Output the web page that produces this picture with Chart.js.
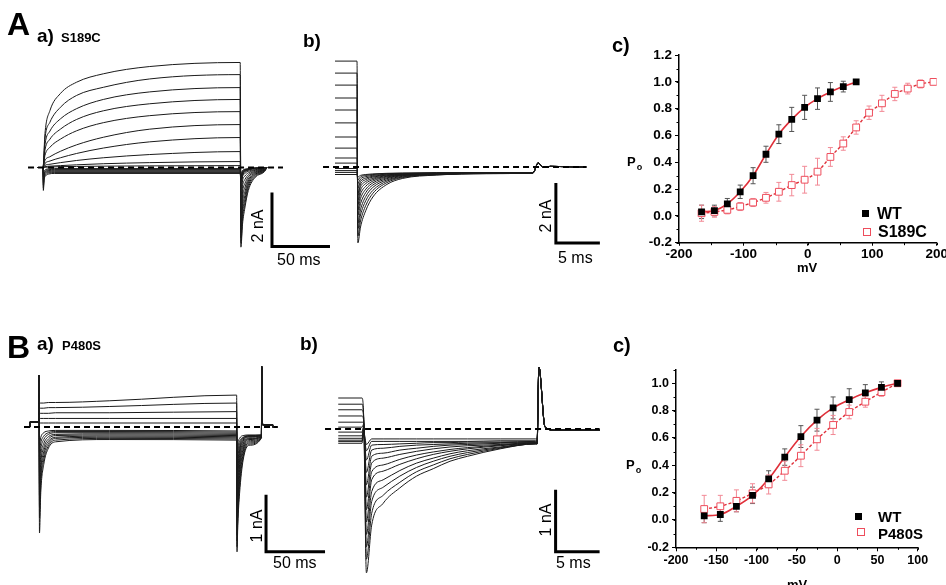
<!DOCTYPE html>
<html>
<head>
<meta charset="utf-8">
<script src="https://cdn.jsdelivr.net/npm/chart.js@4.4.1/dist/chart.umd.min.js"></script>
<style>
  html, body { margin: 0; padding: 0; background: #fff; }
  #fig { position: relative; width: 946px; height: 585px; overflow: hidden; background: #fff; }
  #fig canvas { position: absolute; left: 0; top: 0; }
  .t { position: absolute; font-family: 'Liberation Sans', Arial, sans-serif; color: #000; white-space: nowrap; line-height: 1; }
  .b { font-weight: bold; }
  .rot { transform: translate(-50%, -50%) rotate(-90deg); font-size: 16px; }
  .mk { position: absolute; box-sizing: border-box; }
</style>
</head>
<body>
<div id="fig">
  <canvas id="cAa" width="946" height="585"></canvas>
  <canvas id="cAb" width="946" height="585"></canvas>
  <canvas id="cAc" width="946" height="585"></canvas>
  <canvas id="cBa" width="946" height="585"></canvas>
  <canvas id="cBb" width="946" height="585"></canvas>
  <canvas id="cBc" width="946" height="585"></canvas>

  <div class="t b" style="left:7px;top:8px;font-size:32px">A</div>
  <div class="t b" style="left:37px;top:26px;font-size:19px">a)</div>
  <div class="t b" style="left:61px;top:31px;font-size:13px">S189C</div>
  <div class="t b" style="left:303px;top:31px;font-size:19px">b)</div>
  <div class="t b" style="left:612px;top:35px;font-size:20px">c)</div>

  <div class="t b" style="left:7px;top:331px;font-size:32px">B</div>
  <div class="t b" style="left:37px;top:334px;font-size:19px">a)</div>
  <div class="t b" style="left:62px;top:339px;font-size:13px">P480S</div>
  <div class="t b" style="left:300px;top:334px;font-size:19px">b)</div>
  <div class="t b" style="left:613px;top:335px;font-size:20px">c)</div>

  <!-- barras de escala -->
  <div class="t rot" style="left:258px;top:226px">2 nA</div>
  <div class="t" style="left:277px;top:252px;font-size:16px">50 ms</div>
  <div class="t rot" style="left:546px;top:216px">2 nA</div>
  <div class="t" style="left:558px;top:250px;font-size:16px">5 ms</div>
  <div class="t rot" style="left:257px;top:526px">1 nA</div>
  <div class="t" style="left:273px;top:555px;font-size:16px">50 ms</div>
  <div class="t rot" style="left:546px;top:520px">1 nA</div>
  <div class="t" style="left:556px;top:555px;font-size:16px">5 ms</div>

  <!-- ejes de los paneles c -->
  <div class="t b" style="left:627px;top:155px;font-size:13px">P<span style="font-size:9px;position:relative;top:4px;left:1px">o</span></div>
  <div class="t b" style="left:807px;top:261px;font-size:13px;transform:translateX(-50%)">mV</div>
  <div class="t b" style="left:626px;top:458px;font-size:13px">P<span style="font-size:9px;position:relative;top:4px;left:1px">o</span></div>
  <div class="t b" style="left:797px;top:578px;font-size:13px;transform:translateX(-50%)">mV</div>

  <!-- leyendas -->
  <div class="mk" style="left:862px;top:210px;width:7px;height:7px;background:#000"></div>
  <div class="t b" style="left:877px;top:206px;font-size:16px">WT</div>
  <div class="mk" style="left:863px;top:228px;width:8px;height:8px;border:1px solid #ee4d5c;background:#fff"></div>
  <div class="t b" style="left:878px;top:224px;font-size:16px">S189C</div>
  <div class="mk" style="left:855px;top:513px;width:7px;height:7px;background:#000"></div>
  <div class="t b" style="left:878px;top:509px;font-size:15px">WT</div>
  <div class="mk" style="left:857px;top:528px;width:8px;height:8px;border:1px solid #ee4d5c;background:#fff"></div>
  <div class="t b" style="left:878px;top:526px;font-size:15px">P480S</div>
</div>

<script>
// ---------- A a) S189C: corriente (nA) frente a tiempo (ms)
const tAaOut = [-5, 0, 1.7, 6, 15, 29, 52, 92, 170, 170.6, 172, 174, 177, 183, 191, 193];
const aaOut = [
    [0, 0, 1.26, 2.11, 2.74, 3.16, 3.47, 3.74, 3.89, -2.95, -2.1, -1.5, -0.85, -0.36, -0.15, 0],
    [0, 0, 1.07, 1.68, 2.23, 2.67, 2.97, 3.28, 3.44, -2.8, -1.9, -1.35, -0.75, -0.32, -0.13, 0],
    [0, 0, 0.85, 1.35, 1.80, 2.18, 2.52, 2.80, 2.96, -2.6, -1.7, -1.2, -0.66, -0.28, -0.12, 0],
    [0, 0, 0.65, 1.05, 1.42, 1.78, 2.10, 2.36, 2.52, -2.4, -1.5, -1.05, -0.58, -0.25, -0.1, 0],
    [0, 0, 0.45, 0.75, 1.05, 1.36, 1.66, 1.92, 2.07, -2.2, -1.3, -0.9, -0.5, -0.22, -0.09, 0],
    [0, 0, 0.26, 0.40, 0.60, 0.84, 1.12, 1.42, 1.59, -2.0, -1.1, -0.75, -0.42, -0.19, -0.08, 0],
    [0, 0, 0.15, 0.24, 0.36, 0.52, 0.72, 0.95, 1.11, -1.7, -0.9, -0.6, -0.34, -0.16, -0.07, 0],
    [0, 0, 0.08, 0.12, 0.18, 0.26, 0.36, 0.48, 0.59, -1.4, -0.7, -0.45, -0.27, -0.13, -0.06, 0],
    [0, 0, 0.03, 0.05, 0.07, 0.10, 0.14, 0.18, 0.22, -1.1, -0.5, -0.32, -0.2, -0.1, -0.05, 0],
    [0, 0, 0.01, 0.02, 0.03, 0.04, 0.05, 0.06, 0.07, -0.8, -0.35, -0.22, -0.14, -0.08, -0.04, 0]
];
const tAaIn = [-5, 0, 0.3, 1, 2.5, 5, 10, 170, 170.6, 172, 176, 185, 193];
const aaIn = [
    [0, 0, -0.85, -0.45, -0.3, -0.24, -0.22, -0.22, -0.6, -0.3, -0.12, -0.04, 0],
    [0, 0, -0.75, -0.4, -0.26, -0.2, -0.19, -0.19, -0.5, -0.26, -0.1, -0.03, 0],
    [0, 0, -0.65, -0.35, -0.22, -0.17, -0.16, -0.16, -0.45, -0.22, -0.09, -0.03, 0],
    [0, 0, -0.55, -0.3, -0.18, -0.14, -0.13, -0.13, -0.4, -0.2, -0.08, -0.02, 0],
    [0, 0, -0.45, -0.25, -0.14, -0.11, -0.10, -0.10, -0.35, -0.17, -0.07, -0.02, 0],
    [0, 0, -0.35, -0.2, -0.11, -0.08, -0.07, -0.07, -0.3, -0.14, -0.06, -0.02, 0],
    [0, 0, -0.25, -0.14, -0.07, -0.05, -0.04, -0.04, -0.25, -0.11, -0.05, -0.01, 0]
];

// ---------- A b) colas
const tAb = [-2.5, 0, 0.1, 0.4, 1.0, 1.8, 3.4, 5.2, 9, 14.7, 20, 20.6, 21.1, 22, 26];
const abTails = [
    [3.53, 3.53, -2.53, -2.0, -1.45, -1.0, -0.58, -0.38, -0.27, -0.22, -0.2, 0.14, 0, 0.02, 0],
    [3.13, 3.13, -2.3, -1.8, -1.28, -0.88, -0.52, -0.35, -0.26, -0.22, -0.2, 0.14, 0, 0.02, 0],
    [2.73, 2.73, -2.05, -1.6, -1.12, -0.78, -0.47, -0.33, -0.25, -0.22, -0.2, 0.14, 0, 0.02, 0],
    [2.30, 2.30, -1.87, -1.42, -0.98, -0.68, -0.43, -0.31, -0.25, -0.21, -0.19, 0.14, 0, 0.02, 0],
    [1.90, 1.90, -1.6, -1.22, -0.85, -0.6, -0.39, -0.29, -0.24, -0.21, -0.19, 0.14, 0, 0.02, 0],
    [1.47, 1.47, -1.43, -1.05, -0.74, -0.53, -0.36, -0.28, -0.23, -0.21, -0.19, 0.14, 0, 0.02, 0],
    [1.0, 1.0, -1.25, -0.9, -0.64, -0.47, -0.33, -0.27, -0.23, -0.21, -0.19, 0.14, 0, 0.02, 0],
    [0.63, 0.63, -1.1, -0.77, -0.55, -0.42, -0.31, -0.26, -0.22, -0.2, -0.19, 0.14, 0, 0.02, 0],
    [0.30, 0.30, -0.95, -0.66, -0.48, -0.38, -0.29, -0.25, -0.22, -0.2, -0.19, 0.14, 0, 0.02, 0],
    [0.13, 0.13, -0.87, -0.57, -0.42, -0.34, -0.27, -0.24, -0.21, -0.2, -0.19, 0.14, 0, 0.02, 0],
    [-0.05, -0.05, -0.7, -0.48, -0.37, -0.31, -0.26, -0.23, -0.21, -0.2, -0.19, 0.14, 0, 0.02, 0],
    [-0.12, -0.12, -0.55, -0.4, -0.32, -0.28, -0.24, -0.22, -0.2, -0.19, -0.19, 0.14, 0, 0.02, 0],
    [-0.18, -0.18, -0.43, -0.33, -0.28, -0.25, -0.22, -0.21, -0.2, -0.19, -0.19, 0.14, 0, 0.02, 0],
    [-0.25, -0.25, -0.33, -0.28, -0.25, -0.23, -0.21, -0.2, -0.19, -0.19, -0.19, 0.14, 0, 0.02, 0]
];

// ---------- B a) P480S
const tBa = [-12, -7.6, -7.5, -0.1, 0, 0.4, 1.5, 4, 8, 14, 60, 167.5, 167.8, 168.5, 170, 173, 178, 188.5, 188.7, 189.5, 190.5, 198, 198.1, 202];
const baOut = [
    [0, 0, 0.09, 0.09, 0.9, 0.42, 0.42, 0.42, 0.43, 0.43, 0.46, 0.56, -0.5, -0.3, -0.2, -0.15, -0.14, -0.14, 1.06, 0.04, 0.04, 0.04, 0, 0],
    [0, 0, 0.09, 0.09, 0.9, 0.33, 0.33, 0.33, 0.34, 0.34, 0.36, 0.42, -0.6, -0.38, -0.25, -0.18, -0.15, -0.14, 1.06, 0.04, 0.04, 0.04, 0, 0],
    [0, 0, 0.09, 0.09, 0.9, 0.24, 0.24, 0.24, 0.24, 0.25, 0.25, 0.27, -0.7, -0.45, -0.3, -0.19, -0.16, -0.15, 1.06, 0.04, 0.04, 0.04, 0, 0],
    [0, 0, 0.09, 0.09, 0.9, 0.15, 0.15, 0.15, 0.15, 0.15, 0.15, 0.15, -0.85, -0.55, -0.35, -0.21, -0.16, -0.15, 1.06, 0.04, 0.04, 0.04, 0, 0],
    [0, 0, 0.09, 0.09, 0.9, 0.07, 0.07, 0.07, 0.07, 0.07, 0.07, 0.07, -1.0, -0.65, -0.4, -0.23, -0.17, -0.15, 1.06, 0.04, 0.04, 0.04, 0, 0]
];
const baIn = [
    [0, 0, 0.09, 0.09, 0.9, -0.3, -0.18, -0.1, -0.07, -0.06, -0.06, -0.07, -1.1, -0.75, -0.44, -0.25, -0.18, -0.15, 1.06, 0.04, 0.04, 0.04, 0, 0],
    [0, 0, 0.09, 0.09, 0.9, -0.45, -0.28, -0.16, -0.1, -0.08, -0.08, -0.09, -1.2, -0.85, -0.5, -0.28, -0.2, -0.16, 1.06, 0.04, 0.04, 0.04, 0, 0],
    [0, 0, 0.09, 0.09, 0.9, -0.6, -0.38, -0.22, -0.13, -0.1, -0.1, -0.11, -1.4, -1.0, -0.58, -0.31, -0.21, -0.16, 1.06, 0.04, 0.04, 0.04, 0, 0],
    [0, 0, 0.09, 0.09, 0.9, -0.8, -0.5, -0.29, -0.17, -0.13, -0.12, -0.13, -1.6, -1.15, -0.66, -0.35, -0.22, -0.17, 1.06, 0.04, 0.04, 0.04, 0, 0],
    [0, 0, 0.09, 0.09, 0.9, -1.0, -0.62, -0.36, -0.21, -0.15, -0.14, -0.15, -1.75, -1.3, -0.75, -0.39, -0.24, -0.17, 1.06, 0.04, 0.04, 0.04, 0, 0],
    [0, 0, 0.09, 0.09, 0.9, -1.2, -0.75, -0.43, -0.25, -0.18, -0.16, -0.17, -1.9, -1.4, -0.85, -0.43, -0.26, -0.18, 1.06, 0.04, 0.04, 0.04, 0, 0],
    [0, 0, 0.09, 0.09, 0.9, -1.4, -0.88, -0.5, -0.29, -0.2, -0.18, -0.19, -2.0, -1.5, -0.95, -0.48, -0.28, -0.18, 1.06, 0.04, 0.04, 0.04, 0, 0],
    [0, 0, 0.09, 0.09, 0.9, -1.6, -1.0, -0.58, -0.33, -0.23, -0.2, -0.21, -2.1, -1.6, -1.05, -0.53, -0.3, -0.19, 1.06, 0.04, 0.04, 0.04, 0, 0],
    [0, 0, 0.09, 0.09, 0.9, -1.86, -1.15, -0.66, -0.37, -0.26, -0.22, -0.23, -2.19, -1.7, -1.16, -0.58, -0.32, -0.19, 1.06, 0.04, 0.04, 0.04, 0, 0]
];

// ---------- B b) colas
const tBb = [-2.7, 0, 0.2, 0.5, 1.1, 2.4, 4.3, 6.2, 8.1, 10, 12, 15.7, 19.7, 19.9, 20.1, 20.8, 22, 27];
const bbTails = [
    [0.5, 0.5, 0.15, -2.32, -1.55, -1.2, -0.95, -0.76, -0.64, -0.52, -0.44, -0.32, -0.24, -0.24, 1.0, 0.03, -0.02, -0.02],
    [0.40, 0.40, 0.15, -2.1, -1.36, -1.07, -0.86, -0.69, -0.58, -0.48, -0.41, -0.31, -0.24, -0.24, 1.0, 0.03, -0.02, -0.02],
    [0.31, 0.31, 0.15, -1.9, -1.17, -0.94, -0.76, -0.62, -0.52, -0.44, -0.38, -0.3, -0.24, -0.24, 1.0, 0.03, -0.02, -0.02],
    [0.21, 0.21, 0.12, -1.7, -1.01, -0.82, -0.67, -0.55, -0.47, -0.4, -0.35, -0.29, -0.23, -0.23, 1.0, 0.03, -0.02, -0.02],
    [0.11, 0.11, 0.1, -1.5, -0.82, -0.68, -0.57, -0.48, -0.41, -0.36, -0.32, -0.27, -0.23, -0.23, 1.0, 0.03, -0.02, -0.02],
    [0.03, 0.03, 0.08, -1.3, -0.69, -0.58, -0.49, -0.42, -0.37, -0.33, -0.3, -0.26, -0.23, -0.23, 1.0, 0.03, -0.02, -0.02],
    [-0.05, -0.05, 0.05, -1.1, -0.55, -0.47, -0.41, -0.36, -0.32, -0.29, -0.27, -0.25, -0.22, -0.22, 1.0, 0.03, -0.02, -0.02],
    [-0.11, -0.11, 0.03, -0.9, -0.44, -0.39, -0.34, -0.31, -0.28, -0.26, -0.25, -0.23, -0.22, -0.22, 1.0, 0.03, -0.02, -0.02],
    [-0.15, -0.15, 0, -0.7, -0.34, -0.31, -0.28, -0.26, -0.25, -0.24, -0.23, -0.22, -0.21, -0.21, 1.0, 0.03, -0.02, -0.02],
    [-0.18, -0.18, -0.02, -0.5, -0.26, -0.25, -0.24, -0.23, -0.22, -0.22, -0.21, -0.21, -0.2, -0.2, 1.0, 0.03, -0.02, -0.02],
    [-0.23, -0.23, -0.05, -0.35, -0.2, -0.2, -0.2, -0.2, -0.2, -0.2, -0.2, -0.19, -0.19, -0.19, 1.0, 0.03, -0.02, -0.02],
    [-0.2, -0.2, -0.05, -0.25, -0.16, -0.16, -0.16, -0.16, -0.16, -0.16, -0.16, -0.16, -0.16, -0.16, 1.0, 0.03, -0.02, -0.02]
];

// ---------- c) Po frente a mV
const mvA_WT = [-165, -145, -125, -105, -85, -65, -45, -25, -5, 15, 35, 55, 75];
const poA_WT = [0.03, 0.04, 0.09, 0.18, 0.30, 0.46, 0.61, 0.72, 0.81, 0.875, 0.925, 0.965, 1.0];
const errA_WT = [0.05, 0.04, 0.04, 0.05, 0.06, 0.06, 0.07, 0.09, 0.09, 0.08, 0.07, 0.04, 0];
const mvA_S189C = [-165, -145, -125, -105, -85, -65, -45, -25, -5, 15, 35, 55, 75, 95, 115, 135, 155, 175, 195];
const poA_S189C = [0.02, 0.03, 0.045, 0.07, 0.10, 0.135, 0.18, 0.23, 0.27, 0.33, 0.44, 0.54, 0.66, 0.77, 0.84, 0.91, 0.95, 0.985, 1.0];
const errA_S189C = [0.06, 0.04, 0.03, 0.03, 0.03, 0.04, 0.07, 0.08, 0.1, 0.1, 0.07, 0.05, 0.05, 0.05, 0.06, 0.05, 0.04, 0.03, 0];

const mvB = [-165, -145, -125, -105, -85, -65, -45, -25, -5, 15, 35, 55, 75];
const poB_WT = [0.03, 0.04, 0.10, 0.18, 0.30, 0.46, 0.61, 0.73, 0.82, 0.88, 0.93, 0.97, 1.0];
const errB_WT = [0.05, 0.05, 0.04, 0.06, 0.06, 0.06, 0.08, 0.08, 0.08, 0.08, 0.06, 0.04, 0];
const poB_P480S = [0.08, 0.10, 0.14, 0.195, 0.26, 0.36, 0.47, 0.59, 0.695, 0.79, 0.865, 0.935, 1.0];
const errB_P480S = [0.1, 0.08, 0.08, 0.07, 0.07, 0.07, 0.08, 0.08, 0.07, 0.05, 0.04, 0.03, 0];

// barras de escala (ms, nA)
const barAa = [50, 2], barAb = [5, 2], barBa = [50, 1], barBb = [5, 1];

// ---------- geometría (píxeles)
const W = 946, H = 585;
const geoAa = { x0: 43, pxT: 1.16, y0: 167.5, pxI: 27, box: [15, 45, 345, 295], dash: [-12.9, 206.9], bar: [197.4, -2.93] };
const geoAb = { x0: 357, pxT: 8.8, y0: 167, pxI: 30, box: [315, 45, 605, 295], dash: [-3.86, 26.1], bar: [22.6, -2.53] };
const geoBa = { x0: 39, pxT: 1.18, y0: 427, pxI: 57, box: [15, 355, 345, 585], dash: [-12.7, 201.7], bar: [192.4, -2.19] };
const geoBb = { x0: 362, pxT: 8.8, y0: 429, pxI: 62, box: [315, 355, 605, 585], dash: [-4.2, 27], bar: [22.0, -1.98] };

const FONT = "'Liberation Sans', Arial, sans-serif";
Chart.defaults.font.family = FONT;

function pts(ts, vs) { return ts.map((t, i) => ({ x: t, y: vs[i] })); }

function traceChart(id, geo, groups, bar) {
    const [L, T, R, B] = geo.box;
    const ds = [];
    // línea base discontinua
    ds.push({ data: [{ x: geo.dash[0], y: 0 }, { x: geo.dash[1], y: 0 }], borderColor: '#000',
        borderWidth: 2, borderDash: [6, 4], pointRadius: 0 });
    // barra de escala
    const [bt, bi] = geo.bar;
    ds.push({ data: [{ x: bt, y: bi + bar[1] }, { x: bt, y: bi }, { x: bt + bar[0], y: bi }],
        borderColor: '#000', borderWidth: 3, pointRadius: 0, tension: 0, borderJoinStyle: 'miter' });
    groups.forEach(g => g.rows.forEach(r => ds.push({
        data: pts(g.t, r), borderColor: '#1a1a1a', borderWidth: 1, pointRadius: 0,
        cubicInterpolationMode: 'monotone'
    })));
    new Chart(document.getElementById(id), {
        type: 'line',
        data: { datasets: ds },
        options: {
            responsive: false, animation: false, events: [], devicePixelRatio: 1,
            layout: { padding: { left: L, top: T, right: W - R, bottom: H - B } },
            plugins: { legend: { display: false }, tooltip: { enabled: false } },
            scales: {
                x: { type: 'linear', display: false, min: (L - geo.x0) / geo.pxT, max: (R - geo.x0) / geo.pxT },
                y: { type: 'linear', display: false, min: (geo.y0 - B) / geo.pxI, max: (geo.y0 - T) / geo.pxI }
            }
        }
    });
}

traceChart('cAa', geoAa, [{ t: tAaOut, rows: aaOut }, { t: tAaIn, rows: aaIn }], barAa);
traceChart('cAb', geoAb, [{ t: tAb, rows: abTails }], barAb);
traceChart('cBa', geoBa, [{ t: tBa, rows: baOut }, { t: tBa, rows: baIn }], barBa);
traceChart('cBb', geoBb, [{ t: tBb, rows: bbTails }], barBb);

// barras de error
const errorBars = {
    id: 'errorBars',
    beforeDatasetsDraw(chart) {
        const { ctx, scales: { x, y } } = chart;
        chart.data.datasets.forEach(ds => {
            if (!ds.err) return;
            ctx.save();
            ctx.strokeStyle = ds.errColor;
            ctx.lineWidth = 1;
            ds.data.forEach((p, i) => {
                const e = ds.err[i];
                if (!e) return;
                const px = x.getPixelForValue(p.x);
                const top = y.getPixelForValue(p.y + e), bot = y.getPixelForValue(p.y - e);
                ctx.beginPath();
                ctx.moveTo(px, top); ctx.lineTo(px, bot);
                ctx.moveTo(px - 2.5, top); ctx.lineTo(px + 2.5, top);
                ctx.moveTo(px - 2.5, bot); ctx.lineTo(px + 2.5, bot);
                ctx.stroke();
            });
            ctx.restore();
        });
    }
};

// marcas menores
const minorTicks = {
    id: 'minorTicks',
    afterDraw(chart, args, o) {
        const { ctx, scales: { x, y } } = chart;
        ctx.save();
        ctx.strokeStyle = '#000';
        ctx.lineWidth = 1;
        ctx.beginPath();
        for (let v = x.min; v <= x.max + 1e-6; v += o.x) {
            const px = Math.round(x.getPixelForValue(v)) + 0.5;
            ctx.moveTo(px, x.top); ctx.lineTo(px, x.top + 2.5);
        }
        for (let v = y.min; v <= y.max + 1e-6; v += o.y) {
            const py = Math.round(y.getPixelForValue(v)) + 0.5;
            ctx.moveTo(y.right, py); ctx.lineTo(y.right - 2.5, py);
        }
        ctx.stroke();
        ctx.restore();
    }
};

const RED = '#e0303a', PINK = '#ee4d5c';

function poChart(id, g, wt, mut) {
    const [L, T, R, B] = g.box;
    const font = { family: FONT, weight: 'bold', size: g.fs };
    new Chart(document.getElementById(id), {
        type: 'line',
        data: {
            datasets: [
                { data: pts(wt.x, wt.y), err: wt.e, errColor: '#555', showLine: false, pointStyle: 'rect',
                  pointRadius: 4.8, pointBackgroundColor: '#000', pointBorderColor: '#000', pointBorderWidth: 0 },
                { data: pts(mut.x, mut.y), err: mut.e, errColor: '#f28a96', showLine: false, pointStyle: 'rect',
                  pointRadius: 4.8, pointBackgroundColor: '#fff', pointBorderColor: PINK, pointBorderWidth: 1 },
                { data: pts(wt.x, wt.y), borderColor: RED, borderWidth: 1.6, pointRadius: 0,
                  cubicInterpolationMode: 'monotone' },
                { data: pts(mut.x, mut.y), borderColor: RED, borderWidth: 1.4, borderDash: [3, 2], pointRadius: 0,
                  cubicInterpolationMode: 'monotone' }
            ]
        },
        options: {
            responsive: false, animation: false, events: [], devicePixelRatio: 1,
            layout: { padding: { left: L - 50, top: T, right: W - R, bottom: H - B - 30 } },
            plugins: { legend: { display: false }, tooltip: { enabled: false }, minorTicks: { x: g.xMinor, y: 0.1 } },
            scales: {
                x: {
                    type: 'linear', min: g.xMin, max: g.xMax,
                    afterFit(s) { s.height = 30; s.paddingLeft = 0; s.paddingRight = 0; },
                    ticks: { stepSize: g.xStep, color: '#000', font, padding: g.xPad, maxRotation: 0,
                             callback: v => String(v) },
                    grid: { drawOnChartArea: false, tickLength: g.xTick, tickColor: '#000', tickWidth: 1 },
                    border: { color: '#000', width: 1.5 }
                },
                y: {
                    type: 'linear', min: -0.2, max: g.yMax,
                    afterFit(s) { s.width = 50; },
                    ticks: { stepSize: 0.2, includeBounds: false, color: '#000', font, padding: 3,
                             callback: v => (Math.round(v * 10) / 10).toFixed(1) },
                    grid: { drawOnChartArea: false, tickLength: 4, tickColor: '#000', tickWidth: 1 },
                    border: { color: '#000', width: 1.5 }
                }
            }
        },
        plugins: [errorBars, minorTicks]
    });
}

poChart('cAc', { box: [679, 55.1, 936.7, 242.7], xMin: -200, xMax: 200, xStep: 100, xMinor: 50, yMax: 1.2, fs: 13.5, xPad: 0, xTick: 3 },
    { x: mvA_WT, y: poA_WT, e: errA_WT }, { x: mvA_S189C, y: poA_S189C, e: errA_S189C });
poChart('cBc', { box: [676, 369.6, 917.7, 547.3], xMin: -200, xMax: 100, xStep: 50, xMinor: 25, yMax: 1.1, fs: 12.5, xPad: 2, xTick: 4 },
    { x: mvB, y: poB_WT, e: errB_WT }, { x: mvB, y: poB_P480S, e: errB_P480S });
</script>
</body>
</html>
